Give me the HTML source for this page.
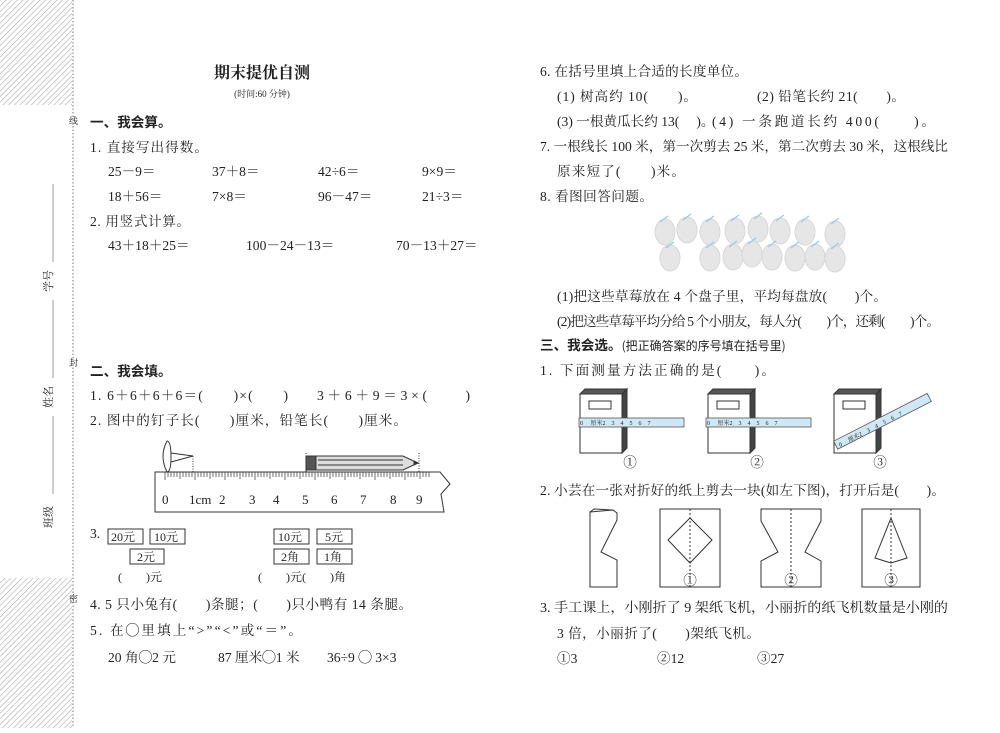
<!DOCTYPE html>
<html><head><meta charset="utf-8"><style>
html,body{margin:0;padding:0;background:#fff}
svg text{font-family:"Liberation Serif","Noto Serif CJK SC","Noto Sans CJK SC",serif;fill:#222}
.t{font-size:13.6px}
.s{font-size:12px}
</style></head><body>
<svg width="1000" height="728" viewBox="0 0 1000 728" xmlns="http://www.w3.org/2000/svg">
<defs>
<pattern id="h" width="4" height="4" patternUnits="userSpaceOnUse" patternTransform="rotate(45)">
<rect width="4" height="4" fill="#fff"/><line x1="0" y1="0" x2="0" y2="4" stroke="#aaa" stroke-width="1.2"/></pattern>
</defs>
<rect x="0" y="0" width="72" height="105" fill="url(#h)"/>
<rect x="0" y="578" width="72" height="150" fill="url(#h)"/>
<line x1="73" y1="0" x2="73" y2="728" stroke="#777" stroke-dasharray="1.5,2"/>
<text x="69" y="124" font-size="9">线</text><text x="69" y="366" font-size="9">封</text><text x="69" y="602" font-size="9">密</text>
<text transform="translate(52,292) rotate(-90)" font-size="11">学号</text>
<text transform="translate(52,408) rotate(-90)" font-size="11">姓名</text>
<text transform="translate(52,528) rotate(-90)" font-size="11">班级</text>
<line x1="53" y1="184" x2="53" y2="262" stroke="#999"/>
<line x1="53" y1="300" x2="53" y2="378" stroke="#999"/>
<line x1="53" y1="416" x2="53" y2="494" stroke="#999"/>

<text x="262" y="78" font-size="16" font-weight="bold" text-anchor="middle" style="font-family:'Noto Serif CJK SC','Noto Sans CJK SC',serif">期末提优自测</text>
<text x="262" y="97" font-size="9" text-anchor="middle">(时间:60 分钟)</text>
<text x="90" y="127" font-size="13.6" font-weight="bold" style="font-family:'Noto Sans CJK SC',sans-serif">一、我会算。</text>
<g class="t">
<text x="90" y="152" textLength="118">1. 直接写出得数。</text>
<text x="108" y="176">25－9＝</text><text x="212" y="176">37＋8＝</text><text x="318" y="176">42÷6＝</text><text x="422" y="176">9×9＝</text>
<text x="108" y="201">18＋56＝</text><text x="212" y="201">7×8＝</text><text x="318" y="201">96－47＝</text><text x="422" y="201">21÷3＝</text>
<text x="90" y="226" textLength="100">2. 用竖式计算。</text>
<text x="108" y="250">43＋18＋25＝</text><text x="246" y="250">100－24－13＝</text><text x="396" y="250">70－13＋27＝</text>
</g>
<text x="90" y="376" font-size="13.6" font-weight="bold" style="font-family:'Noto Sans CJK SC',sans-serif">二、我会填。</text>
<g class="t">
<text x="90" y="400" textLength="198">1. 6＋6＋6＋6＝(　　)×(　　)</text><text x="317" y="400" textLength="153">3＋6＋9＝3×(　　)</text>
<text x="90" y="425" textLength="317">2. 图中的钉子长(　　)厘米，铅笔长(　　)厘米。</text>
</g>
<g stroke="#333" fill="none">
<path d="M155 472 H440 L450 484 L441 494 L444 512 H155 Z" fill="#fff"/>
<g stroke-width="0.7">
<path d="M165 472v8M168 472v5M171 472v5M174 472v5M177 472v5M180 472v7M183 472v5M186 472v5M189 472v5M192 472v5M195 472v8M198 472v5M201 472v5M204 472v5M207 472v5M210 472v7M213 472v5M216 472v5M219 472v5M222 472v5M225 472v8M228 472v5M231 472v5M234 472v5M237 472v5M240 472v7M243 472v5M246 472v5M249 472v5M252 472v5M255 472v8M258 472v5M261 472v5M264 472v5M267 472v5M270 472v7M273 472v5M276 472v5M279 472v5M282 472v5M285 472v8M288 472v5M291 472v5M294 472v5M297 472v5M300 472v7M303 472v5M306 472v5M309 472v5M312 472v5M315 472v8M318 472v5M321 472v5M324 472v5M327 472v5M330 472v7M333 472v5M336 472v5M339 472v5M342 472v5M345 472v8M348 472v5M351 472v5M354 472v5M357 472v5M360 472v7M363 472v5M366 472v5M369 472v5M372 472v5M375 472v8M378 472v5M381 472v5M384 472v5M387 472v5M390 472v7M393 472v5M396 472v5M399 472v5M402 472v5M405 472v8M408 472v5M411 472v5M414 472v5M417 472v5M420 472v7M423 472v5M426 472v5M429 472v5"/>
</g>
<path d="M167 441 q-8 15 0 31 q4 0 4 -15 q0 -16 -4 -16z" fill="#fff"/>
<path d="M171 453 L193 456 L171 462" />
<line x1="193" y1="456" x2="193" y2="472" stroke-dasharray="1,1.5"/>
<line x1="306" y1="453" x2="306" y2="472" stroke-dasharray="1,1.5"/>
<line x1="419" y1="453" x2="419" y2="472" stroke-dasharray="1,1.5"/>
<rect x="306" y="456" width="10" height="14" fill="#555"/>
<path d="M316 456 H403 L418 463 L403 470 H316 Z" fill="#ddd"/>
<line x1="318" y1="460" x2="403" y2="460"/><line x1="318" y1="465" x2="403" y2="465"/>
<path d="M414 461 L418 463 L414 465Z" fill="#333"/>
</g>
<g font-size="13">
<text x="162" y="504">0</text><text x="189" y="504">1cm</text><text x="219" y="504">2</text><text x="249" y="504">3</text><text x="273" y="504">4</text><text x="302" y="504">5</text><text x="331" y="504">6</text><text x="360" y="504">7</text><text x="390" y="504">8</text><text x="416" y="504">9</text>
</g>
<text x="90" y="538" class="t">3.</text>
<g fill="none" stroke="#333">
<rect x="108" y="529" width="35" height="15"/><rect x="150" y="529" width="35" height="15"/><rect x="130" y="549" width="34" height="15"/>
<rect x="274" y="529" width="35" height="15"/><rect x="317" y="529" width="35" height="15"/><rect x="274" y="549" width="35" height="15"/><rect x="317" y="549" width="35" height="15"/>
</g>
<g font-size="12">
<text x="111" y="541">20元</text><text x="154" y="541">10元</text><text x="137" y="561">2元</text>
<text x="278" y="541">10元</text><text x="325" y="541">5元</text><text x="281" y="561">2角</text><text x="324" y="561">1角</text>
<text x="118" y="581">(　　)元</text><text x="258" y="581">(　　)元(　　)角</text>
</g>
<g class="t">
<text x="90" y="609" textLength="322">4. 5 只小兔有(　　)条腿；(　　)只小鸭有 14 条腿。</text>
<text x="90" y="635" textLength="212">5. 在◯里填上“&gt;”“&lt;”或“＝”。</text>
<text x="108" y="662">20 角◯2 元</text><text x="218" y="662">87 厘米◯1 米</text><text x="327" y="662">36÷9 ◯ 3×3</text>
</g>

<g class="t">
<text x="540" y="76" textLength="208">6. 在括号里填上合适的长度单位。</text>
<text x="557" y="101" textLength="140">(1) 树高约 10(　　)。</text><text x="757" y="101" textLength="148">(2) 铅笔长约 21(　　)。</text>
<text x="557" y="126">(3) 一根黄瓜长约 13(　 )。</text><text x="712" y="126" textLength="223">(4) 一条跑道长约 400(　　)。</text>
<text x="540" y="151" textLength="408" lengthAdjust="spacingAndGlyphs">7. 一根线长 100 米，第一次剪去 25 米，第二次剪去 30 米，这根线比</text>
<text x="557" y="176" textLength="128">原来短了(　　)米。</text>
<text x="540" y="201" textLength="113">8. 看图回答问题。</text>
</g>
<g fill="#e6e6e6" stroke="#d8d8d8">
<ellipse cx="665" cy="232" rx="10" ry="13"/><ellipse cx="687" cy="230" rx="10" ry="13"/><ellipse cx="710" cy="232" rx="10" ry="13"/><ellipse cx="735" cy="231" rx="10" ry="13"/><ellipse cx="758" cy="229" rx="10" ry="13"/><ellipse cx="780" cy="231" rx="10" ry="13"/><ellipse cx="805" cy="232" rx="10" ry="13"/><ellipse cx="835" cy="234" rx="10" ry="13"/>
<ellipse cx="670" cy="258" rx="10" ry="13"/><ellipse cx="710" cy="258" rx="10" ry="13"/><ellipse cx="733" cy="257" rx="10" ry="13"/><ellipse cx="752" cy="254" rx="10" ry="13"/><ellipse cx="772" cy="257" rx="10" ry="13"/><ellipse cx="795" cy="258" rx="10" ry="13"/><ellipse cx="815" cy="257" rx="10" ry="13"/><ellipse cx="835" cy="259" rx="10" ry="13"/>
</g>
<g fill="none" stroke="#9cc8e0" stroke-width="1.2">
<path d="M660 222 l8 -6M683 220 l8 -6M706 222 l8 -6M731 221 l8 -6M754 219 l8 -6M776 221 l8 -6M801 222 l8 -6M831 224 l8 -6M666 248 l8 -6M706 248 l8 -6M729 247 l8 -6M748 244 l8 -6M768 247 l8 -6M791 248 l8 -6M811 247 l8 -6M831 249 l8 -6"/>
</g>
<g class="t">
<text x="557" y="301" textLength="330">(1)把这些草莓放在 4 个盘子里，平均每盘放(　　)个。</text>
<text x="557" y="326" textLength="383">(2)把这些草莓平均分给 5 个小朋友，每人分(　　)个，还剩(　　)个。</text>
<text x="540" y="350" font-weight="bold" style="font-family:'Noto Sans CJK SC',sans-serif">三、我会选。<tspan font-weight="normal" font-size="12">(把正确答案的序号填在括号里)</tspan></text>
<text x="540" y="375" textLength="235">1. 下面测量方法正确的是(　　)。</text>
</g>
<g stroke="#333" fill="#fff">
<g><path d="M580 394 l5 -5 h42 l-5 5z" fill="#555"/><rect x="580" y="394" width="42" height="59"/><path d="M622 394 l5 -5 v59 l-5 5z" fill="#444"/><rect x="589" y="401" width="22" height="8"/></g>
<g transform="translate(128,0)"><path d="M580 394 l5 -5 h42 l-5 5z" fill="#555"/><rect x="580" y="394" width="42" height="59"/><path d="M622 394 l5 -5 v59 l-5 5z" fill="#444"/><rect x="589" y="401" width="22" height="8"/></g>
<g transform="translate(254,0)"><path d="M580 394 l5 -5 h42 l-5 5z" fill="#555"/><rect x="580" y="394" width="42" height="59"/><path d="M622 394 l5 -5 v59 l-5 5z" fill="#444"/><rect x="589" y="401" width="22" height="8"/></g>
</g>
<g stroke="#555" fill="#cfe8f5" stroke-width="0.8">
<rect x="579" y="418" width="105" height="9"/>
<rect x="706" y="418" width="105" height="9"/>
<rect x="830" y="418" width="105" height="9" transform="rotate(-27 880 422)"/>
</g>
<g font-size="6" fill="#333">
<text x="580" y="425">0　 厘米2　3　4　5　6　7</text>
<text x="707" y="425">0　 厘米2　3　4　5　6　7</text>
<text x="833" y="426" transform="rotate(-27 880 422)">0　 厘米2　3　4　5　6　7</text>
</g>
<g class="t" text-anchor="middle">
<text x="630" y="467">①</text><text x="757" y="467">②</text><text x="880" y="467">③</text>
</g>
<text x="540" y="495" class="t" textLength="405">2. 小芸在一张对折好的纸上剪去一块(如左下图)，打开后是(　　)。</text>
<g stroke="#333" fill="none">
<path d="M590 512 L613 510 L617 513 V520 L601 552 L617 560 V587 H590 Z"/>
<path d="M590 512 L594 509 L613 510"/>
<rect x="660" y="509" width="60" height="78"/>
<path d="M690 518 L712 540 L690 563 L668 540 Z"/>
<line x1="690" y1="509" x2="690" y2="587" stroke-dasharray="2,2"/>
<path d="M761 509 H821 V521 L805 552 L821 561 V587 H761 V561 L778 552 L761 521 Z"/>
<line x1="791" y1="509" x2="791" y2="587" stroke-dasharray="2,2"/>
<rect x="862" y="509" width="58" height="78"/>
<path d="M891 518 L907 558 L891 563 L875 558 Z"/>
<line x1="891" y1="509" x2="891" y2="587" stroke-dasharray="2,2"/>
</g>
<g class="t" text-anchor="middle">
<text x="690" y="585">①</text><text x="791" y="585">②</text><text x="891" y="585">③</text>
</g>
<g class="t">
<text x="540" y="612" textLength="408" lengthAdjust="spacingAndGlyphs">3. 手工课上，小刚折了 9 架纸飞机，小丽折的纸飞机数量是小刚的</text>
<text x="557" y="638" textLength="203">3 倍，小丽折了(　　)架纸飞机。</text>
<text x="557" y="663">①3</text><text x="657" y="663">②12</text><text x="757" y="663">③27</text>
</g>
</svg>
</body></html>
